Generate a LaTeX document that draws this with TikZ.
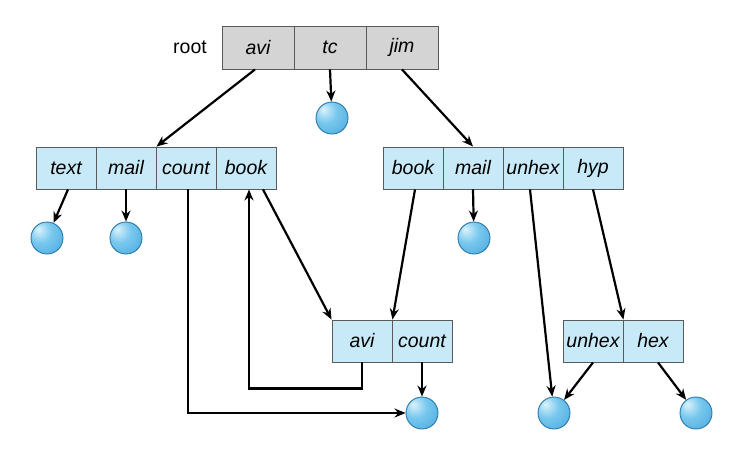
\documentclass[tikz,border=0pt]{standalone}
\usepackage{fontspec}
\setmainfont{Liberation Sans}
\usetikzlibrary{arrows.meta}
\definecolor{cellblue}{RGB}{200,234,248}
\definecolor{cellgray}{RGB}{212,212,212}
\definecolor{cellline}{RGB}{90,90,90}
\definecolor{ballhi}{RGB}{220,242,252}
\definecolor{ballmid}{RGB}{120,200,238}
\definecolor{balledge}{RGB}{70,165,220}
\definecolor{ballline}{RGB}{40,120,170}
\pgfdeclareradialshading{myball}{\pgfpoint{-14bp}{14bp}}{color(0bp)=(ballhi); color(18bp)=(ballmid); color(45bp)=(balledge); color(70bp)=(balledge)}
\tikzset{
  cell/.style={draw=cellline, line width=0.9pt, minimum width=60pt, minimum height=42pt, inner sep=0pt, fill=cellblue, font=\fontsize{19.5}{22}\selectfont\itshape},
  rootcell/.style={cell, fill=cellgray, minimum width=72pt, minimum height=43pt},
  fileball/.style={circle, minimum size=32pt, inner sep=0pt, shading=myball, draw=ballline, line width=0.9pt},
  link/.style={line width=2.2pt, -{Stealth[length=11pt,width=9pt]}},
}
\begin{document}
\begin{tikzpicture}[x=1pt,y=-1pt]
\useasboundingbox (0,0) rectangle (730,464);
% root
\node[font=\fontsize{19.5}{22}\selectfont] (rootlbl) at (190,47) {root};
\node[rootcell] (ravi) at (258,47.5) {avi};
\node[rootcell] (rtc) at (330,47.5) {tc};
\node[rootcell] (rjim) at (402,47.5) {jim};
% left directory
\node[cell] (lt) at (66,168) {text};
\node[cell] (lm) at (126,168) {mail};
\node[cell] (lc) at (186,168) {count};
\node[cell] (lb) at (246,168) {book};
% right directory
\node[cell] (rb) at (413,168) {book};
\node[cell] (rm) at (473,168) {mail};
\node[cell] (ru) at (533,168) {unhex};
\node[cell] (rh) at (593,168) {hyp};
% lower directories
\node[cell] (aa) at (362,341) {avi};
\node[cell] (ac) at (422,341) {count};
\node[cell] (uu) at (593,341) {unhex};
\node[cell] (hh) at (653,341) {hex};
% files
\node[fileball] (ftc) at (332,118) {};
\node[fileball] (ftext) at (47,238) {};
\node[fileball] (fmail) at (126,238) {};
\node[fileball] (frmail) at (474,238) {};
\node[fileball] (fcount) at (422,413) {};
\node[fileball] (funhex) at (554,413) {};
\node[fileball] (fhex) at (696,413) {};
% links
\draw[link] ([xshift=-3pt]ravi.south) -- (lm.north east);
\draw[link] (rtc.south) -- (ftc);
\draw[link] (rjim.south) -- (rm.north);
\draw[link] ([xshift=2pt]lt.south) -- (ftext);
\draw[link] (lm.south) -- (fmail);
\draw[link] ([xshift=2pt]lc.south) |- (fcount.west);
\draw[link] (aa.south) -- ++(0,26) -| ([xshift=3pt]lb.south);
\draw[link] ([xshift=17pt]lb.south) -- (aa.north west);
\draw[link] ([xshift=2pt]rb.south) -- (aa.north east);
\draw[link] (rm.south) -- (frmail);
\draw[link] ([xshift=-3pt]ru.south) -- (funhex);
\draw[link] (rh.south) -- (uu.north east);
\draw[link] (uu.south) -- (funhex);
\draw[link] ([xshift=5pt]hh.south) -- (fhex);
\draw[link] (ac.south) -- (fcount);
\end{tikzpicture}
\end{document}
